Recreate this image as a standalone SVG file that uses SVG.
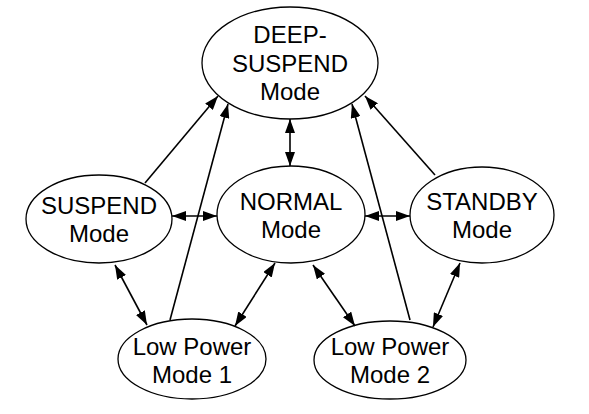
<svg xmlns="http://www.w3.org/2000/svg" width="589" height="414" viewBox="0 0 589 414">
<style>
.n{fill:#fff;stroke:#000;stroke-width:1.3}
.t{font-family:"Liberation Sans",Arial,sans-serif;font-size:24px;fill:#000;text-anchor:middle}
.c{stroke:#000;stroke-width:1.6;fill:none}
</style>
<defs>
<marker id="ah" viewBox="0 0 14 10" refX="14" refY="5" markerWidth="14" markerHeight="10" markerUnits="userSpaceOnUse" orient="auto-start-reverse">
<path d="M0,0 L14,5 L0,10 Z" fill="#000"/>
</marker>
</defs>
<rect width="589" height="414" fill="#fff"/>
<g id="deep-suspend">
<ellipse class="n" cx="290" cy="63" rx="88" ry="56"/>
<text class="t" x="290" y="43">DEEP-</text>
<text class="t" x="290" y="72">SUSPEND</text>
<text class="t" x="290" y="100">Mode</text>
</g>
<g id="suspend">
<ellipse class="n" cx="99" cy="219" rx="73" ry="44"/>
<text class="t" x="99" y="214">SUSPEND</text>
<text class="t" x="99" y="242">Mode</text>
</g>
<g id="normal">
<ellipse class="n" cx="291" cy="214.5" rx="74" ry="48.5"/>
<text class="t" x="291" y="210">NORMAL</text>
<text class="t" x="291" y="238">Mode</text>
</g>
<g id="standby">
<ellipse class="n" cx="482" cy="215" rx="72" ry="48"/>
<text class="t" x="482" y="210">STANDBY</text>
<text class="t" x="482" y="238">Mode</text>
</g>
<g id="lp1">
<ellipse class="n" cx="192" cy="359" rx="74" ry="40"/>
<text class="t" x="192" y="355">Low Power</text>
<text class="t" x="192" y="383">Mode 1</text>
</g>
<g id="lp2">
<ellipse class="n" cx="390" cy="360" rx="76" ry="39"/>
<text class="t" x="390" y="355">Low Power</text>
<text class="t" x="390" y="383">Mode 2</text>
</g>
<g id="connectors">
<line class="c" x1="145" y1="183" x2="218" y2="96" marker-end="url(#ah)"/>
<line class="c" x1="170" y1="320" x2="228" y2="104" marker-end="url(#ah)"/>
<line class="c" x1="290" y1="119" x2="290" y2="166" marker-start="url(#ah)" marker-end="url(#ah)"/>
<line class="c" x1="410" y1="320" x2="352" y2="104" marker-end="url(#ah)"/>
<line class="c" x1="435" y1="175" x2="365" y2="96" marker-end="url(#ah)"/>
<line class="c" x1="172" y1="216" x2="217" y2="216" marker-start="url(#ah)" marker-end="url(#ah)"/>
<line class="c" x1="365" y1="216" x2="410" y2="216" marker-start="url(#ah)" marker-end="url(#ah)"/>
<line class="c" x1="115" y1="265" x2="147" y2="325" marker-start="url(#ah)" marker-end="url(#ah)"/>
<line class="c" x1="275" y1="263" x2="235" y2="326" marker-start="url(#ah)" marker-end="url(#ah)"/>
<line class="c" x1="313" y1="265" x2="355" y2="326" marker-start="url(#ah)" marker-end="url(#ah)"/>
<line class="c" x1="460" y1="263" x2="433" y2="327" marker-start="url(#ah)" marker-end="url(#ah)"/>
</g>
</svg>
